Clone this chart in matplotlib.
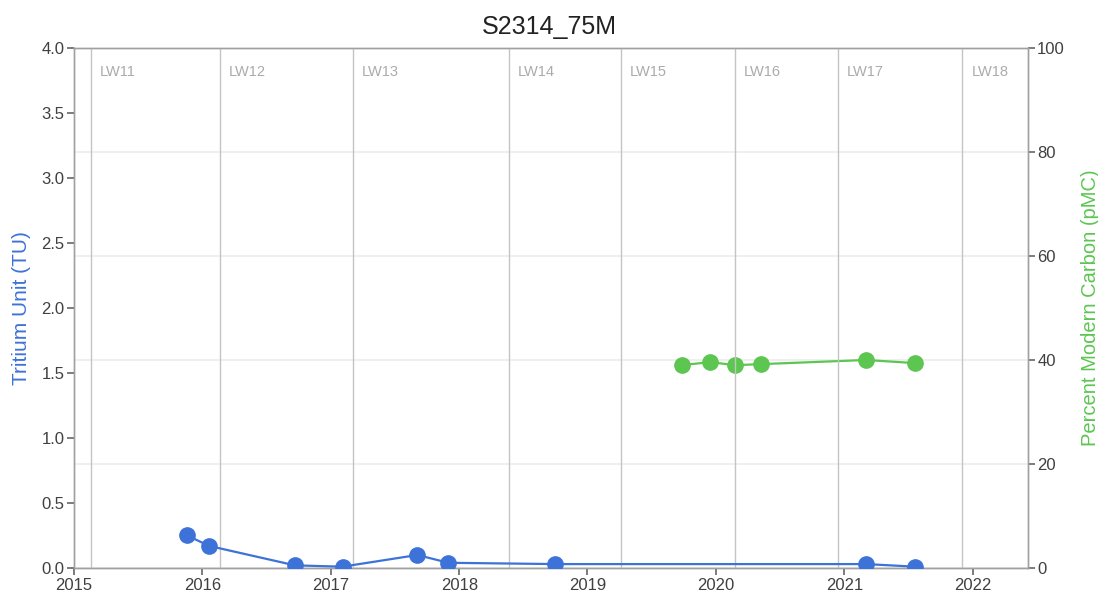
import matplotlib
matplotlib.use("Agg")
import matplotlib.pyplot as plt
import matplotlib.dates as mdates
import pandas as pd

plt.rcParams["font.family"] = ["Liberation Sans", "DejaVu Sans"]

# Tritium samples (TU)
tritium_dates = ["2015-11-19", "2016-01-20", "2016-09-21", "2017-02-03",
                 "2017-09-04", "2017-12-01", "2018-10-01", "2021-03-04",
                 "2021-07-21"]
tritium_values = [0.25, 0.17, 0.02, 0.01, 0.10, 0.04, 0.03, 0.03, 0.01]

# Carbon-14 samples (pMC)
carbon_dates = ["2019-09-26", "2019-12-17", "2020-02-24", "2020-05-08",
                "2021-03-04", "2021-07-21"]
carbon_values = [39.0, 39.6, 39.0, 39.2, 40.0, 39.4]

# Longwall panel start markers
panel_names = ["LW11", "LW12", "LW13", "LW14", "LW15", "LW16", "LW17", "LW18"]
panel_dates = ["2015-02-17", "2016-02-20", "2017-03-04", "2018-05-23",
               "2019-04-06", "2020-02-25", "2020-12-14", "2021-12-03"]

title = "S2314_75M"
tu_ticks = [0.0, 0.5, 1.0, 1.5, 2.0, 2.5, 3.0, 3.5, 4.0]
pmc_ticks = [0, 20, 40, 60, 80, 100]

BLUE = "#3d72d9"
GREEN = "#5cc651"
FRAME = "#a0a0a0"
TEXT = "#404040"

fig = plt.figure(figsize=(10.98, 5.94), dpi=100)
ax = fig.add_axes([0.0674, 0.0438, 0.8684, 0.8754])
ax2 = ax.twinx()

# right axis carries the horizontal grid; keep it underneath
ax2.set_zorder(0)
ax.set_zorder(1)
ax.patch.set_visible(False)

t_dates = pd.to_datetime(tritium_dates)
c_dates = pd.to_datetime(carbon_dates)
p_dates = pd.to_datetime(panel_dates)

ax.set_xlim(pd.Timestamp("2015-01-01"), pd.Timestamp("2022-06-06"))
ax.set_ylim(0, 4)
ax2.set_ylim(0, 100)

ax2.set_yticks(pmc_ticks)
ax2.set_yticklabels([str(v) for v in pmc_ticks])
ax2.grid(axis="y", color="#ececec", linewidth=1.2)
ax2.set_axisbelow(True)

ax.set_yticks(tu_ticks)
ax.set_yticklabels([f"{v:.1f}" for v in tu_ticks])

for name, d in zip(panel_names, p_dates):
    ax.axvline(d, color="#c4c4c4", linewidth=1.0, zorder=1)
    ax.annotate(name, xy=(d, 1.0), xycoords=("data", "axes fraction"),
                xytext=(6.5, -17.5), textcoords="offset points",
                ha="left", va="center", fontsize=10.5, color="#ababab")

ax.plot(t_dates, tritium_values, color=BLUE, linewidth=1.6, marker="o",
        markersize=11, zorder=3)
ax2.plot(c_dates, carbon_values, color=GREEN, linewidth=1.6, marker="o",
         markersize=11, zorder=3)

ax.xaxis.set_major_locator(mdates.YearLocator())
ax.xaxis.set_major_formatter(mdates.DateFormatter("%Y"))

for a in (ax, ax2):
    for s in a.spines.values():
        s.set_color(FRAME)
        s.set_linewidth(1.0)
    a.tick_params(colors="#666666", labelcolor=TEXT, labelsize=12,
                  length=5, width=1.2, pad=2)

ax.set_ylabel("Tritium Unit (TU)", color=BLUE, fontsize=15)
ax.yaxis.set_label_coords(-0.045, 0.5)
ax2.set_ylabel("Percent Modern Carbon (pMC)", color=GREEN, fontsize=14.5)
ax2.yaxis.set_label_coords(1.056, 0.5)

fig.suptitle(title, fontsize=18, color="#222222", y=0.975, va="top")

fig.savefig("out.png", dpi=100)
